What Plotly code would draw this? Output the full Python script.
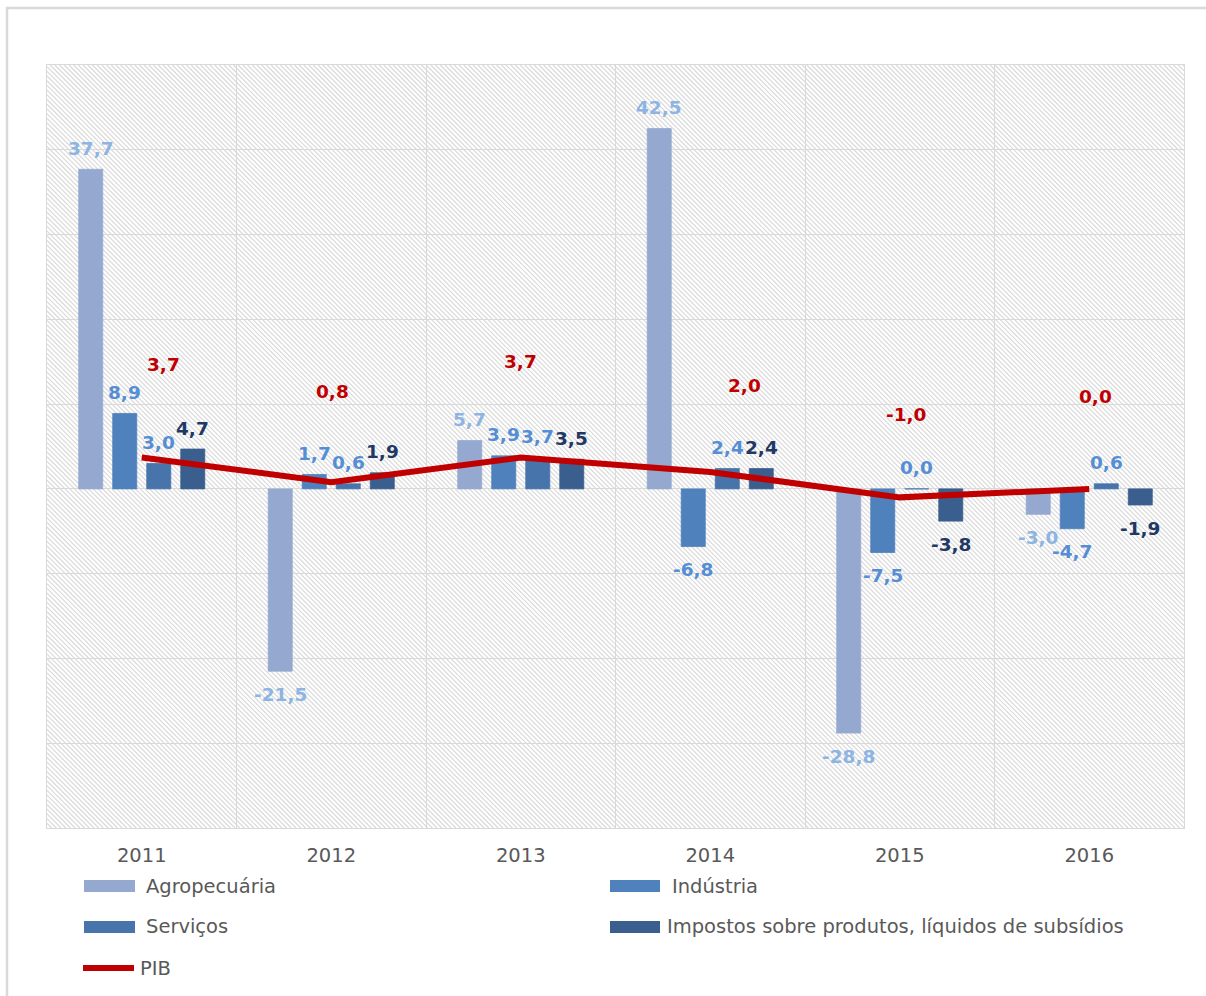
import plotly.graph_objects as go

# ---- data -------------------------------------------------------------
years = ["2011", "2012", "2013", "2014", "2015", "2016"]
agropecuaria = [37.7, -21.5, 5.7, 42.5, -28.8, -3.0]
industria = [8.9, 1.7, 3.9, -6.8, -7.5, -4.7]
servicos = [3.0, 0.6, 3.7, 2.4, 0.0, 0.6]
impostos = [4.7, 1.9, 3.5, 2.4, -3.8, -1.9]
pib = [3.7, 0.8, 3.7, 2.0, -1.0, 0.0]

series_names = [
    "Agropecuária",
    "Indústria",
    "Serviços",
    "Impostos sobre produtos, líquidos de subsídios",
]
line_name = "PIB"

# ---- styling ----------------------------------------------------------
bar_colors = ["#95A9D0", "#4F81BD", "#4674AB", "#3A5F8E"]
label_colors = ["#8DB4E2", "#558ED5", "#558ED5", "#1F3864"]
pib_color = "#C00000"
grid_color = "#D9D9D9"
text_gray = "#595959"

FIG_W, FIG_H = 1206, 996
M_L, M_R, M_T, M_B = 47, 22, 65, 168
PLOT_W = FIG_W - M_L - M_R
PLOT_H = FIG_H - M_T - M_B
BARGAP = 0.282
BARGROUPGAP = 0.294

# pixel offsets of the PIB value labels relative to each line vertex
pib_label_dx = [22, 1, 0, 34, 6, 6]
pib_label_dy = [93, 91, 96, 86, 83, 92]


def px_x(px):
    return (px - M_L) / PLOT_W


def px_y(py):
    return (FIG_H - M_B - py) / PLOT_H


def fmt(v):
    return f"{v:.1f}".replace(".", ",")


fig = go.Figure()

for name, vals, col in zip(series_names, [agropecuaria, industria, servicos, impostos], bar_colors):
    # a hairline outline keeps zero-height bars visible as a thin stroke
    fig.add_trace(go.Bar(x=years, y=vals, name=name, marker_color=col,
                         marker_line=dict(color=col, width=0.8), showlegend=False))

fig.add_trace(go.Scatter(x=years, y=pib, name=line_name, mode="lines",
                         line=dict(color=pib_color, width=6),
                         showlegend=False))

annotations = []

label_font_size = 18.5

# bar value labels, one per bar, shifted to the bar's slot within the group
# (x given as category index so the year strings are not read as numbers)
slot = (PLOT_W / len(years)) * (1 - BARGAP) / 4
for i, (vals, col) in enumerate(zip([agropecuaria, industria, servicos, impostos], label_colors)):
    for j, v in enumerate(vals):
        annotations.append(dict(
            x=j, y=v, xref="x", yref="y", text=fmt(v), showarrow=False,
            xshift=(i - 1.5) * slot, yshift=21 if v >= 0 else -23,
            font=dict(family="DejaVu Sans", size=label_font_size, color=col, weight="bold"),
        ))

# PIB value labels
for j, (v, dx, dy) in enumerate(zip(pib, pib_label_dx, pib_label_dy)):
    annotations.append(dict(
        x=j, y=v, xref="x", yref="y", text=fmt(v), showarrow=False,
        xshift=dx, yshift=dy,
        font=dict(family="DejaVu Sans", size=label_font_size, color=pib_color, weight="bold"),
    ))

shapes = []

# diagonal hatch of the plot area
hatch = []
step = 4.7
c = -PLOT_H
while c < PLOT_W:
    y0 = max(0.0, -c)
    y1 = min(PLOT_H, PLOT_W - c)
    if y1 > y0:
        x0, x1 = c + y0, c + y1
        hatch.append(f"M{x0 / PLOT_W:.5f},{1 - y0 / PLOT_H:.5f}"
                     f"L{x1 / PLOT_W:.5f},{1 - y1 / PLOT_H:.5f}")
    c += step
shapes.append(dict(type="path", xref="paper", yref="paper", path="".join(hatch),
                   line=dict(color="#DADADA", width=1.2), layer="below"))

# chart frame
shapes.append(dict(type="rect", xref="paper", yref="paper",
                   x0=px_x(7), y0=px_y(1010), x1=px_x(1220), y1=px_y(8),
                   line=dict(color=grid_color, width=2.5), layer="below"))

# legend
legend_font = dict(family="DejaVu Sans", size=19.5, color=text_gray)
legend_items = [
    (series_names[0], bar_colors[0], 84, 135, 880, 892, 144, 886),
    (series_names[1], bar_colors[1], 610, 660, 880, 892, 670, 886),
    (series_names[2], bar_colors[2], 84, 135, 921, 933, 144, 927),
    (series_names[3], bar_colors[3], 610, 660, 921, 933, 665, 927),
]
for name, col, xa, xb, ya, yb, tx, ty in legend_items:
    shapes.append(dict(type="rect", xref="paper", yref="paper",
                       x0=px_x(xa), x1=px_x(xb), y0=px_y(yb), y1=px_y(ya),
                       fillcolor=col, line=dict(width=0)))
    annotations.append(dict(x=px_x(tx), y=px_y(ty), xref="paper", yref="paper",
                            text=name, showarrow=False, xanchor="left", yanchor="middle",
                            font=legend_font))
shapes.append(dict(type="line", xref="paper", yref="paper",
                   x0=px_x(83), x1=px_x(134), y0=px_y(968), y1=px_y(968),
                   line=dict(color=pib_color, width=6)))
annotations.append(dict(x=px_x(138), y=px_y(968), xref="paper", yref="paper",
                        text=line_name, showarrow=False, xanchor="left", yanchor="middle",
                        font=legend_font))

fig.update_layout(
    width=FIG_W, height=FIG_H,
    margin=dict(l=M_L, r=M_R, t=M_T, b=M_B, autoexpand=False),
    paper_bgcolor="white", plot_bgcolor="rgba(0,0,0,0)",
    barmode="group", bargap=BARGAP, bargroupgap=BARGROUPGAP,
    font=dict(family="DejaVu Sans", color=text_gray),
    showlegend=False,
    shapes=shapes, annotations=annotations,
)
fig.update_xaxes(
    type="category", range=[-0.5, len(years) - 0.5], tickson="boundaries",
    showgrid=True, gridcolor=grid_color, gridwidth=1,
    showline=True, mirror=True, linecolor=grid_color, linewidth=1,
    ticks="", ticklabelstandoff=10,
    tickfont=dict(family="DejaVu Sans", size=19.5, color=text_gray),
    zeroline=False, fixedrange=True,
)
fig.update_yaxes(
    range=[-40, 50], tick0=0, dtick=10, showticklabels=False,
    showgrid=True, gridcolor=grid_color, gridwidth=1,
    showline=True, mirror=True, linecolor=grid_color, linewidth=1,
    zeroline=False, fixedrange=True,
)

fig.write_html("out.html")
